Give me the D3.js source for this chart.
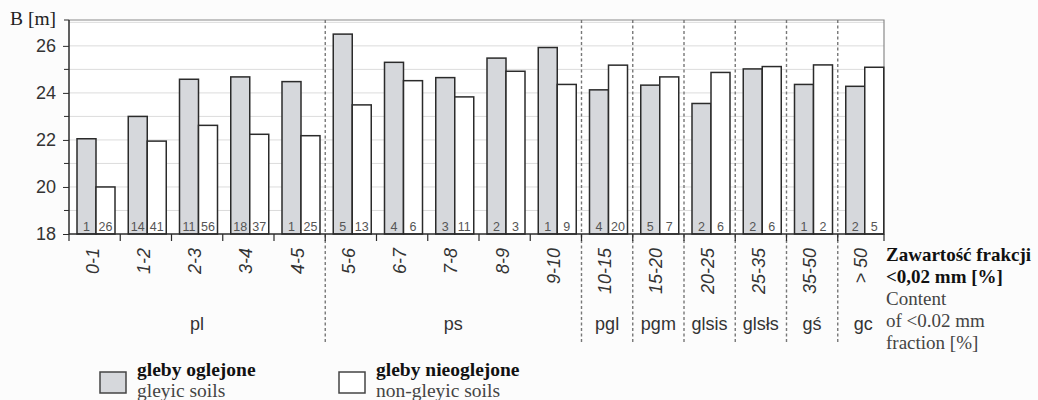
<!DOCTYPE html>
<html>
<head>
<meta charset="utf-8">
<script src="https://cdn.jsdelivr.net/npm/d3@7"></script>
<style>
  html, body { margin: 0; padding: 0; background: #fcfcfc; }
  svg { display: block; }
</style>
</head>
<body>
<svg id="chart" width="1038" height="400"></svg>
<script>
// Content of <0.02 mm fraction [%]
const categories = ["0-1","1-2","2-3","3-4","4-5","5-6","6-7","7-8","8-9","9-10",
                    "10-15","15-20","20-25","25-35","35-50","> 50"];
// Mean B [m], gleyic soils
const gleyic    = [22.05, 23.0, 24.58, 24.68, 24.48, 26.5, 25.3, 24.65, 25.48, 25.93,
                   24.13, 24.33, 23.55, 25.02, 24.36, 24.28];
// Mean B [m], non-gleyic soils
const nonGleyic = [20.0, 21.95, 22.62, 22.24, 22.18, 23.49, 24.52, 23.83, 24.92, 24.36,
                   25.18, 24.68, 24.87, 25.12, 25.19, 25.09];
// Number of samples
const gleyicN    = [1, 14, 11, 18, 1, 5, 4, 3, 2, 1, 4, 5, 2, 2, 1, 2];
const nonGleyicN = [26, 41, 56, 37, 25, 13, 6, 11, 3, 9, 20, 7, 6, 6, 2, 5];
// Soil groups: label, first and last category
const groups = [
  { label: "pl",    from: "0-1",   to: "4-5" },
  { label: "ps",    from: "5-6",   to: "9-10" },
  { label: "pgl",   from: "10-15", to: "10-15" },
  { label: "pgm",   from: "15-20", to: "15-20" },
  { label: "glsis", from: "20-25", to: "20-25" },
  { label: "glsłs", from: "25-35", to: "25-35" },
  { label: "gś",    from: "35-50", to: "35-50" },
  { label: "gc",    from: "> 50",  to: "> 50" }
];
const yTicks = [18, 20, 22, 24, 26];

const svg = d3.select("#chart");
const pLeft = 69, pRight = 884, pTop = 20, pBottom = 234;
const sans = "Arial, 'Liberation Sans', sans-serif";
const serif = "'Times New Roman', 'Liberation Serif', serif";

const x = d3.scaleBand().domain(categories).range([pLeft, 889]);
const x1 = d3.scaleBand().domain(["g", "n"]).range([8, 46]);
const y = d3.scaleLinear().domain([18, 27.1]).range([pBottom, pTop]);

// plot background
svg.append("rect").attr("x", pLeft).attr("y", pTop)
  .attr("width", pRight - pLeft).attr("height", pBottom - pTop).attr("fill", "#ffffff");

// gridlines every 1 m
svg.append("g").selectAll("line").data(d3.range(19, 28))
  .join("line")
  .attr("x1", pLeft).attr("x2", pRight)
  .attr("y1", d => y(d)).attr("y2", d => y(d))
  .attr("stroke", "#dcdcdc").attr("stroke-width", 1);

// frame top/right
svg.append("path")
  .attr("d", `M${pLeft},${pTop}H${pRight}V${pBottom}`)
  .attr("fill", "none").attr("stroke", "#8a8a8a").attr("stroke-width", 1.2);

// bars
const bars = [];
categories.forEach((c, i) => {
  bars.push({ c, k: "g", v: gleyic[i], cnt: gleyicN[i] });
  bars.push({ c, k: "n", v: nonGleyic[i], cnt: nonGleyicN[i] });
});
svg.append("g").selectAll("rect").data(bars)
  .join("rect")
  .attr("x", d => x(d.c) + x1(d.k))
  .attr("width", x1.bandwidth())
  .attr("y", d => y(d.v))
  .attr("height", d => y(18) - y(d.v))
  .attr("fill", d => d.k === "g" ? "#d6d8dc" : "#ffffff")
  .attr("stroke", "#2b2b2b").attr("stroke-width", 1.5);

// sample counts
svg.append("g").selectAll("text").data(bars)
  .join("text")
  .attr("x", d => x(d.c) + x1(d.k) + x1.bandwidth() / 2)
  .attr("y", pBottom - 3)
  .attr("text-anchor", "middle")
  .attr("font-family", sans).attr("font-size", 12.5)
  .attr("fill", "#555")
  .text(d => d.cnt);

// dashed group separators
const seps = groups.slice(1).map(g => x(g.from));
svg.append("g").selectAll("line").data(seps)
  .join("line")
  .attr("x1", d => d).attr("x2", d => d)
  .attr("y1", pTop).attr("y2", 343)
  .attr("stroke", "#777").attr("stroke-width", 1.4)
  .attr("stroke-dasharray", "3,2.5");

// y axis
const yAxis = svg.append("g").attr("transform", `translate(${pLeft},0)`)
  .call(d3.axisLeft(y).tickValues(yTicks).tickSize(6).tickPadding(7).tickFormat(d3.format("d")));
yAxis.select(".domain").attr("d", `M0,${pTop}V${pBottom}`).attr("stroke", "#2b2b2b").attr("stroke-width", 1.5);
yAxis.selectAll(".tick line").attr("stroke", "#2b2b2b");
yAxis.selectAll(".tick text").attr("font-family", sans).attr("font-size", 18).attr("fill", "#333");
// minor ticks
svg.append("g").selectAll("line").data([19, 21, 23, 25, 27.1])
  .join("line")
  .attr("x1", pLeft - 5).attr("x2", pLeft)
  .attr("y1", d => y(d)).attr("y2", d => y(d))
  .attr("stroke", "#2b2b2b");

// x axis line and ticks
svg.append("line").attr("x1", pLeft).attr("x2", pRight).attr("y1", pBottom).attr("y2", pBottom)
  .attr("stroke", "#2b2b2b").attr("stroke-width", 1.5);
svg.append("g").selectAll("line").data(categories.map(c => x(c)).concat([pRight]))
  .join("line")
  .attr("x1", d => d).attr("x2", d => d)
  .attr("y1", pBottom).attr("y2", pBottom + 7)
  .attr("stroke", "#2b2b2b").attr("stroke-width", 1.2);

// category labels (rotated)
svg.append("g").selectAll("text").data(categories)
  .join("text")
  .attr("transform", d => `translate(${x(d) + x.bandwidth() / 2 + 4},${pBottom + 14}) rotate(-90)`)
  .attr("text-anchor", "end")
  .attr("font-family", sans).attr("font-size", 18).attr("font-style", "italic")
  .attr("fill", "#333")
  .text(d => d);

// group labels
svg.append("g").selectAll("text").data(groups)
  .join("text")
  .attr("x", g => (x(g.from) + x(g.to) + x.bandwidth()) / 2)
  .attr("y", 330)
  .attr("text-anchor", "middle")
  .attr("font-family", sans).attr("font-size", 18).attr("fill", "#333")
  .text(g => g.label);

// axis titles
svg.append("text").attr("x", 10).attr("y", 25)
  .attr("font-family", serif).attr("font-size", 19.5).attr("fill", "#222")
  .text("B [m]");

const xTitle = [
  { t: "Zawartość frakcji", y: 261, b: true },
  { t: "<0,02 mm [%]", y: 283, b: true },
  { t: "Content", y: 305, b: false },
  { t: "of <0.02 mm", y: 327, b: false },
  { t: "fraction [%]", y: 349, b: false }
];
svg.append("g").selectAll("text").data(xTitle)
  .join("text")
  .attr("x", 886).attr("y", d => d.y)
  .attr("font-family", serif).attr("font-size", 19)
  .attr("font-weight", d => d.b ? "bold" : "normal")
  .attr("fill", d => d.b ? "#111" : "#444")
  .text(d => d.t);

// legend
const legend = [
  { fill: "#d6d8dc", pl: "gleby oglejone", en: "gleyic soils", x: 100 },
  { fill: "#ffffff", pl: "gleby nieoglejone", en: "non-gleyic soils", x: 339 }
];
const lg = svg.append("g").selectAll("g").data(legend).join("g")
  .attr("transform", d => `translate(${d.x},0)`);
lg.append("rect").attr("x", 0).attr("y", 372).attr("width", 26).attr("height", 21)
  .attr("fill", d => d.fill).attr("stroke", "#444").attr("stroke-width", 1.5);
lg.append("text").attr("x", 37).attr("y", 376)
  .attr("font-family", serif).attr("font-size", 19.5).attr("font-weight", "bold").attr("fill", "#111")
  .text(d => d.pl);
lg.append("text").attr("x", 37).attr("y", 397)
  .attr("font-family", serif).attr("font-size", 19.5).attr("fill", "#444")
  .text(d => d.en);
</script>
</body>
</html>
